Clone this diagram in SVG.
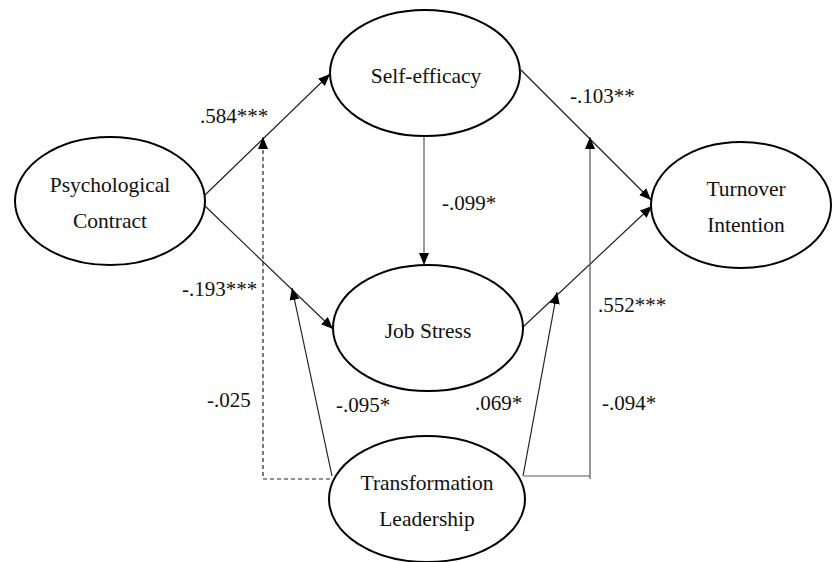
<svg xmlns="http://www.w3.org/2000/svg" width="832" height="562" viewBox="0 0 832 562">
<style>
.node ellipse{fill:#fff;stroke:#000;stroke-width:2}
.node text{font-size:21.5px;fill:#111;text-anchor:middle}
.lbl{font-size:21px;fill:#111}
.c{fill:none;stroke:#222;stroke-width:1.2}
.g{stroke:#555}
.d{stroke-dasharray:4,3}
</style>
<defs>
<marker id="ah" markerUnits="userSpaceOnUse" markerWidth="13" markerHeight="11" refX="12" refY="5" orient="auto">
<path d="M0,0 L12,5 L0,10 z" fill="#000"/>
</marker>
</defs>
<rect width="832" height="562" fill="#fff"/>
<g id="connectors">
<line class="c" x1="205" y1="195" x2="330" y2="74" marker-end="url(#ah)"/>
<line class="c" x1="205" y1="206" x2="333" y2="329" marker-end="url(#ah)"/>
<line class="c g" x1="424" y1="137" x2="424" y2="265" marker-end="url(#ah)"/>
<line class="c" x1="521" y1="70" x2="651" y2="200" marker-end="url(#ah)"/>
<line class="c" x1="523" y1="327" x2="652" y2="206" marker-end="url(#ah)"/>
<polyline class="c d" points="330,479 263,479 263,137" marker-end="url(#ah)"/>
<line class="c" x1="332" y1="476" x2="292" y2="288" marker-end="url(#ah)"/>
<line class="c" x1="523" y1="476" x2="557" y2="292" marker-end="url(#ah)"/>
<polyline class="c g" points="524,476 590,476 590,137" marker-end="url(#ah)"/>
<line class="c g" x1="590" y1="476" x2="590" y2="479"/>
</g>
<g id="psychological-contract" class="node">
<ellipse cx="110" cy="201" rx="95" ry="64"/>
<text x="110" y="192" font-family="Times New Roman, serif">Psychological</text>
<text x="110" y="228" font-family="Times New Roman, serif">Contract</text>
</g>
<g id="self-efficacy" class="node">
<ellipse cx="425" cy="73" rx="95" ry="63"/>
<text x="426" y="83" font-family="Times New Roman, serif">Self-efficacy</text>
</g>
<g id="turnover-intention" class="node">
<ellipse cx="741" cy="205" rx="90" ry="63"/>
<text x="746" y="196" font-family="Times New Roman, serif">Turnover</text>
<text x="746" y="232" font-family="Times New Roman, serif">Intention</text>
</g>
<g id="job-stress" class="node">
<ellipse cx="428" cy="328" rx="95" ry="63"/>
<text x="428" y="338" font-family="Times New Roman, serif">Job Stress</text>
</g>
<g id="transformation-leadership" class="node">
<ellipse cx="427" cy="499" rx="98" ry="63"/>
<text x="427" y="490" font-family="Times New Roman, serif">Transformation</text>
<text x="427" y="526" font-family="Times New Roman, serif">Leadership</text>
</g>
<g id="labels">
<text class="lbl" x="200" y="123" font-family="Times New Roman, serif">.584***</text>
<text class="lbl" x="570" y="103" font-family="Times New Roman, serif">-.103**</text>
<text class="lbl" x="442" y="210" font-family="Times New Roman, serif">-.099*</text>
<text class="lbl" x="182" y="296" font-family="Times New Roman, serif">-.193***</text>
<text class="lbl" x="598" y="312" font-family="Times New Roman, serif">.552***</text>
<text class="lbl" x="207" y="407" font-family="Times New Roman, serif">-.025</text>
<text class="lbl" x="336" y="412" font-family="Times New Roman, serif">-.095*</text>
<text class="lbl" x="475" y="410" font-family="Times New Roman, serif">.069*</text>
<text class="lbl" x="602" y="410" font-family="Times New Roman, serif">-.094*</text>
</g>
</svg>
